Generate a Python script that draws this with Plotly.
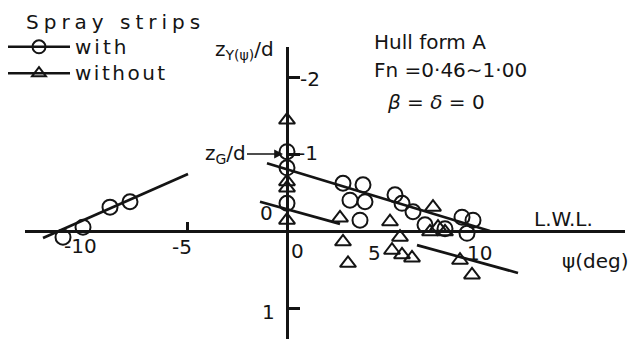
import plotly.graph_objects as go

# Heel angle psi (deg) and vertical position of the side-force centre z_Y(psi)/d
with_psi = [-11.2, -10.2, -8.85, -7.85, 0.0, 0.0, 0.0, 2.8, 3.8, 3.15, 3.9, 3.65,
            5.4, 5.75, 6.3, 6.9, 7.9, 8.75, 9.3, 9.0]
with_z = [0.08, -0.05, -0.31, -0.38, -1.03, -0.82, -0.36, -0.62, -0.60, -0.40, -0.38, -0.14,
          -0.47, -0.36, -0.25, -0.08, -0.03, -0.18, -0.14, 0.03]

without_psi = [0.0, 0.0, 0.0, 0.0, 2.65, 2.8, 3.05, 5.15, 5.65, 5.25, 5.75, 6.25,
               7.3, 7.15, 7.55, 7.9, 8.65, 9.25]
without_z = [-1.44, -0.64, -0.56, -0.14, -0.17, 0.14, 0.42, -0.12, 0.08, 0.25, 0.31, 0.35,
             -0.31, 0.01, -0.05, 0.01, 0.38, 0.57]

# Faired trend lines (None separates the drawn pieces)
with_fit_psi = [-12.2, -4.95, None, -1.0, 10.15]
with_fit_z = [0.09, -0.74, None, -0.88, 0.0]
without_fit_psi = [-1.35, 2.65, None, 6.5, 11.55]
without_fit_z = [-0.38, -0.093, None, 0.183, 0.545]

x_tick_vals = [-10, -5, 0, 5, 10]
x_tick_text = ["-10", "-5", "0", "5", "10"]
y_tick_vals = [-2, -1, 0, 1]
y_tick_text = ["-2", "-1", "0", "1"]

zG_over_d = -1.0

INK = "#141414"
FONT = "DejaVu Sans"
W, H = 630, 339


def spaced(text, gap):
    return f'<span style="letter-spacing:{gap}px;font-size:20px">{text}</span>'


fig = go.Figure()

fig.add_trace(go.Scatter(x=with_fit_psi, y=with_fit_z, mode="lines",
                         line=dict(color=INK, width=2.7), showlegend=False,
                         hoverinfo="skip", cliponaxis=False))
fig.add_trace(go.Scatter(x=without_fit_psi, y=without_fit_z, mode="lines",
                         line=dict(color=INK, width=2.7), showlegend=False,
                         hoverinfo="skip", cliponaxis=False))

fig.add_trace(go.Scatter(x=with_psi, y=with_z, mode="markers", showlegend=False,
                         marker=dict(symbol="circle-open", size=15, color=INK,
                                     line=dict(width=2, color=INK)),
                         cliponaxis=False))
fig.add_trace(go.Scatter(x=without_psi, y=without_z, mode="markers", showlegend=False,
                         marker=dict(symbol="triangle-up-open", size=14, color=INK,
                                     line=dict(width=2, color=INK)),
                         cliponaxis=False))

# legend entries
fig.add_trace(go.Scatter(x=[None], y=[None], mode="lines+markers",
                         name=spaced("with", 3),
                         line=dict(color=INK, width=2.4),
                         marker=dict(symbol="circle-open", size=13, color=INK,
                                     line=dict(width=2, color=INK))))
fig.add_trace(go.Scatter(x=[None], y=[None], mode="lines+markers",
                         name=spaced("without", 2.5),
                         line=dict(color=INK, width=2.4),
                         marker=dict(symbol="triangle-up-open", size=12, color=INK,
                                     line=dict(width=2, color=INK))))

annotations = []

# tick labels on the two reference lines
x_shift = [(-7, -15), (-5, -16), (10, -20), (-13, -22), (-8, -22)]
for v, t, (dx, dy) in zip(x_tick_vals, x_tick_text, x_shift):
    annotations.append(dict(x=v, y=0, xref="x", yref="y", text=t, showarrow=False,
                            xshift=dx, yshift=dy, font=dict(size=20)))
y_shift = [(23, -2), (21, 1), (-21, 18), (-19, -4)]
for v, t, (dx, dy) in zip(y_tick_vals, y_tick_text, y_shift):
    annotations.append(dict(x=0, y=v, xref="x", yref="y", text=t, showarrow=False,
                            xshift=dx, yshift=dy, font=dict(size=20)))

# centre of gravity marker
annotations.append(dict(x=0, y=zG_over_d, xref="x", yref="y", text="z<sub>G</sub>/d",
                        showarrow=True, ax=-62, ay=0, arrowhead=2, arrowsize=1.1,
                        arrowwidth=1.6, arrowcolor=INK, standoff=4,
                        font=dict(size=20)))


def px(xp, yp):
    return xp / W, 1 - yp / H


for text, (xp, yp) in [
    ("z<sub>Y(ψ)</sub>/d", (213, 50)),
    ("Hull form A", (372, 42)),
    ("Fn =0·46∼1·00", (372, 70)),
    ("<i>β</i> = <i>δ</i> = 0", (385, 102)),
    ("L.W.L.", (532, 219)),
    ("ψ(deg)", (560, 261)),
]:
    x, y = px(xp, yp)
    annotations.append(dict(x=x, y=y, xref="paper", yref="paper", text=text,
                            showarrow=False, xanchor="left", yanchor="middle",
                            font=dict(size=20)))

fig.update_layout(
    width=W, height=H,
    margin=dict(l=0, r=0, t=0, b=0, autoexpand=False),
    paper_bgcolor="white", plot_bgcolor="rgba(0,0,0,0)",
    font=dict(family=FONT, color=INK, size=20),
    annotations=annotations,
    showlegend=True,
    legend=dict(x=3 / W, y=1.0, xanchor="left", yanchor="top",
                bgcolor="rgba(0,0,0,0)", borderwidth=0, itemwidth=62,
                font=dict(size=18, family=FONT, color=INK),
                title=dict(text="\u00a0\u00a0\u00a0" + spaced("Spray strips", 5),
                           font=dict(size=22, family=FONT, color=INK), side="top")),
    xaxis=dict(domain=[25 / W, 625 / W], range=[-13.1, 16.9], anchor="free",
               position=(H - 231) / H, showline=True, linewidth=3, linecolor=INK,
               showgrid=False, zeroline=False, ticks="inside", tickvals=[-5],
               ticklen=8, tickwidth=2.5, tickcolor=INK, showticklabels=False),
    yaxis=dict(domain=[0, (H - 47) / H], range=[1.4026, -2.3896], anchor="free",
               position=287 / W, showline=True, linewidth=3, linecolor=INK,
               showgrid=False, zeroline=False, ticks="inside", tickvals=[-2, -1, 1],
               ticklen=11, tickwidth=2.5, tickcolor=INK, showticklabels=False),
    yaxis2=dict(domain=[0, (H - 47) / H], range=[1.4026, -2.3896], anchor="free",
                overlaying="y", position=287 / W, showline=False, showgrid=False,
                zeroline=False, ticks="outside", tickvals=[-2], ticklen=9,
                tickwidth=2.5, tickcolor=INK, showticklabels=False),
)

fig.write_html("out.html")
